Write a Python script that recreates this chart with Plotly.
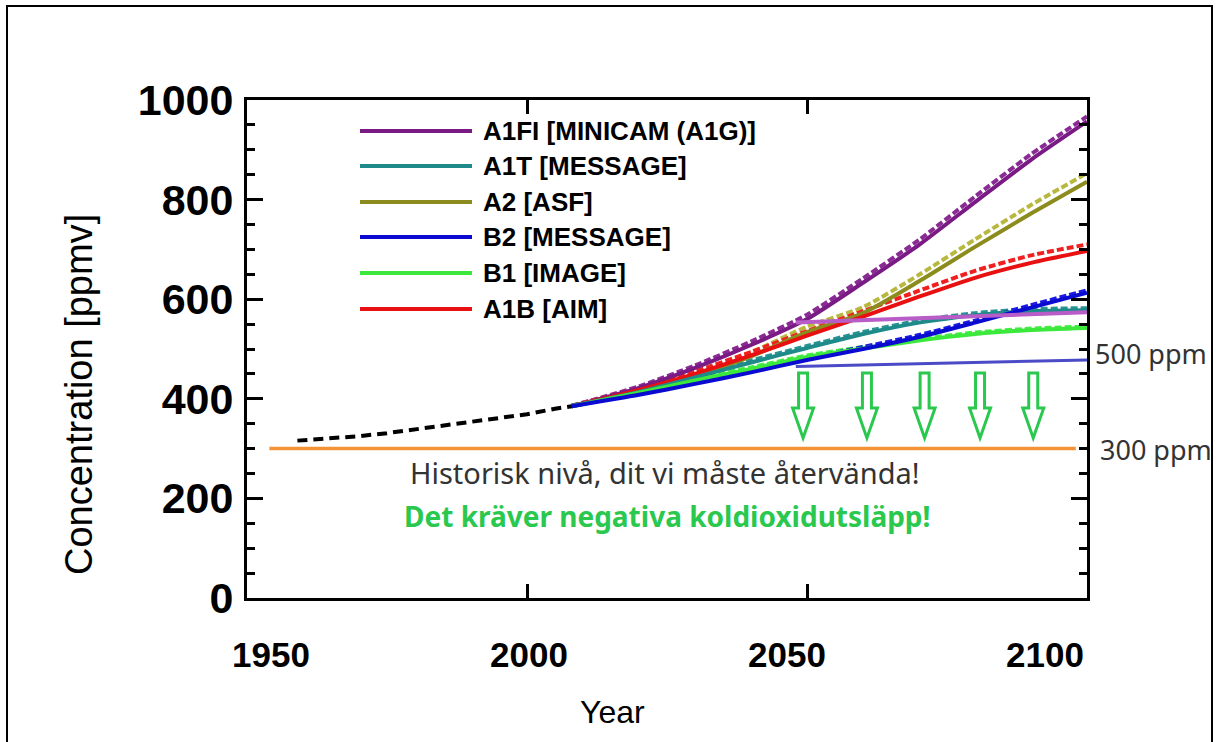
import plotly.graph_objects as go

# ---------------- data ----------------
hist_years = [1959, 1965, 1970, 1975, 1980, 1985, 1990, 1995, 2000, 2005, 2008]
hist_co2 = [316, 320, 325, 331, 339, 346, 354, 361, 369, 380, 385]

years = [2008, 2020, 2030, 2040, 2050, 2060, 2070, 2080, 2090, 2100]

scenario_names = ["A1FI [MINICAM (A1G)]", "A1T [MESSAGE]", "A2 [ASF]",
                  "B2 [MESSAGE]", "B1 [IMAGE]", "A1B [AIM]"]
scenario_colors = ["#7a1a84", "#1e8a8a", "#8c8c1e", "#0a0ad0", "#3ce83c", "#e81010"]
dashed_colors = ["#8a2a94", "#2a9494", "#b8b840", "#1a1ae0", "#44ee44", "#f02020"]

a1fi = [385, 422, 462, 508, 560, 633, 709, 795, 880, 957]
a1t = [385, 414, 443, 473, 502, 530, 553, 568, 576, 578]
a2 = [385, 415, 445, 485, 534, 572, 636, 705, 772, 836]
b2 = [385, 408, 430, 453, 478, 500, 524, 553, 583, 613]
b1 = [385, 412, 437, 460, 484, 501, 517, 530, 538, 542]
a1b = [385, 418, 450, 487, 527, 565, 605, 643, 673, 697]

a1fi_d = [386, 425, 467, 515, 569, 642, 719, 806, 891, 967]
a1t_d = [386, 416, 446, 477, 506, 534, 557, 572, 580, 582]
a2_d = [386, 419, 451, 493, 545, 584, 649, 720, 789, 853]
b2_d = [386, 410, 432, 456, 481, 504, 528, 557, 588, 618]
b1_d = [386, 414, 440, 463, 487, 504, 520, 533, 541, 545]
a1b_d = [386, 421, 455, 494, 536, 576, 617, 657, 688, 710]

solid_series = [a1fi, a1t, a2, b2, b1, a1b]
dashed_series = [a1fi_d, a1t_d, a2_d, b2_d, b1_d, a1b_d]

stab550_years = [2048, 2100]
stab550_vals = [553, 574]
stab500_years = [2048, 2100]
stab500_vals = [465, 478]

hist_level_years = [1954, 2098]
hist_level_vals = [300, 300]

arrow_years = [2049.3, 2060.7, 2071.0, 2080.9, 2090.4]

x_ticks = [1950, 2000, 2050, 2100]
y_ticks = [0, 200, 400, 600, 800, 1000]

# ---------------- layout geometry helpers ----------------
W, H = 1219, 742
L, R, T, B = 247, 1087, 100, 598


def px(x):
    return (x - L) / (R - L)


def py(y):
    return (B - y) / (B - T)


GREEN = "#2ac84e"

fig = go.Figure()

# historic level line
fig.add_trace(go.Scatter(x=hist_level_years, y=hist_level_vals, mode="lines",
                         line=dict(color="#f39237", width=3.5), showlegend=False))

# dashed emulator series
order = [0, 2, 5, 1, 4, 3]
for i in order:
    fig.add_trace(go.Scatter(x=years, y=dashed_series[i], mode="lines",
                             line=dict(color=dashed_colors[i], width=4, dash="7px,3px",
                                       shape="spline", smoothing=0.6),
                             showlegend=False))
for i in order:
    fig.add_trace(go.Scatter(x=years, y=solid_series[i], mode="lines",
                             line=dict(color=scenario_colors[i], width=4,
                                       shape="spline", smoothing=0.6),
                             showlegend=False))

# stabilisation lines
fig.add_trace(go.Scatter(x=stab550_years, y=stab550_vals, mode="lines",
                         line=dict(color="#b85cc8", width=4), showlegend=False))
fig.add_trace(go.Scatter(x=stab500_years, y=stab500_vals, mode="lines",
                         line=dict(color="#4b4bc8", width=3), showlegend=False))

# historical observations
fig.add_trace(go.Scatter(x=hist_years, y=hist_co2, mode="lines",
                         line=dict(color="black", width=4, dash="10px,6px"),
                         showlegend=False))

# empty trace so that the label axis (x2) is rendered
fig.add_trace(go.Scatter(x=x_ticks, y=[None] * len(x_ticks), xaxis="x2", yaxis="y",
                         mode="lines", showlegend=False, hoverinfo="skip"))

shapes = []
annotations = []

# outer frame
shapes.append(dict(type="rect", xref="paper", yref="paper",
                   x0=px(7), x1=px(1212), y0=py(745), y1=py(6),
                   line=dict(color="black", width=2), fillcolor="rgba(0,0,0,0)",
                   layer="below"))

# manual legend
leg_y = [131, 166, 202, 237, 273, 309]
for name, col, yy in zip(scenario_names, scenario_colors, leg_y):
    shapes.append(dict(type="line", xref="paper", yref="paper",
                       x0=px(360), x1=px(472), y0=py(yy), y1=py(yy),
                       line=dict(color=col, width=4)))
    annotations.append(dict(xref="paper", yref="paper", x=px(481), y=py(yy),
                            text=name, showarrow=False, xanchor="left", yanchor="middle",
                            font=dict(family="Liberation Sans, Arial", size=26,
                                      color="black", weight="bold")))

# hollow green arrows (pixel geometry)
x_scale = (R - L) / (2100 - 1950)
for ay in arrow_years:
    cx = L + (ay - 1950) * x_scale
    top, neck, tip = 373, 408, 438
    sw, hw = 4.5, 10.5
    pts = [(cx - sw, top), (cx + sw, top), (cx + sw, neck), (cx + hw, neck),
           (cx, tip), (cx - hw, neck), (cx - sw, neck)]
    path = "M " + " L ".join(f"{px(a):.5f},{py(b):.5f}" for a, b in pts) + " Z"
    shapes.append(dict(type="path", xref="paper", yref="paper", path=path,
                       line=dict(color=GREEN, width=3), fillcolor="white"))


def note(x, y, text, size, color, family="Noto Sans, Open Sans", weight="normal",
         xanchor="center", angle=0):
    annotations.append(dict(xref="paper", yref="paper", x=px(x), y=py(y), text=text,
                            showarrow=False, xanchor=xanchor, yanchor="middle",
                            textangle=angle,
                            font=dict(family=family, size=size, color=color,
                                      weight=weight)))


note(665, 472, "Historisk nivå, dit vi måste återvända!", 29, "#333333")
note(667, 516, "Det kräver negativa koldioxidutsläpp!", 28, GREEN, weight="bold")
note(1093, 353, "500 ppm", 27, "#333333", xanchor="left")
note(1098, 449, "300 ppm", 27, "#333333", xanchor="left")
note(612, 712, "Year", 32, "black", family="Liberation Sans, Arial")
note(79, 395, "Concentration [ppmv]", 38, "black", family="Liberation Sans, Arial",
     angle=-90)

fig.update_layout(
    width=W, height=H,
    margin=dict(l=L, r=W - R, t=T, b=H - B),
    paper_bgcolor="white", plot_bgcolor="rgba(0,0,0,0)",
    showlegend=False,
    shapes=shapes, annotations=annotations,
    xaxis=dict(range=[1950, 2100], tickvals=x_ticks, showticklabels=False,
               ticks="inside", ticklen=14, tickwidth=3, tickcolor="black",
               showline=True, linewidth=3, linecolor="black", mirror="ticks",
               showgrid=False, zeroline=False),
    xaxis2=dict(domain=[px(271), px(1045)], anchor="y", range=[1950, 2100],
                tickvals=x_ticks, ticktext=[str(v) for v in x_ticks],
                showline=False, showgrid=False, zeroline=False, ticks="",
                ticklabelstandoff=33,
                tickfont=dict(family="Liberation Sans, Arial", size=35,
                              color="black", weight="bold")),
    yaxis=dict(range=[0, 1000], tickvals=y_ticks, ticktext=[str(v) for v in y_ticks],
               ticks="inside", ticklen=16, tickwidth=3, tickcolor="black",
               minor=dict(dtick=50, ticks="inside", ticklen=8, tickwidth=3,
                          tickcolor="black", showgrid=False),
               showline=True, linewidth=3, linecolor="black", mirror="ticks",
               showgrid=False, zeroline=False, ticklabelstandoff=2,
               tickfont=dict(family="Liberation Sans, Arial", size=43, color="black",
                             weight="bold")),
)

fig.write_html("out.html", config={"displayModeBar": False},
               post_script="document.body.style.margin='0';document.body.style.padding='0';")
